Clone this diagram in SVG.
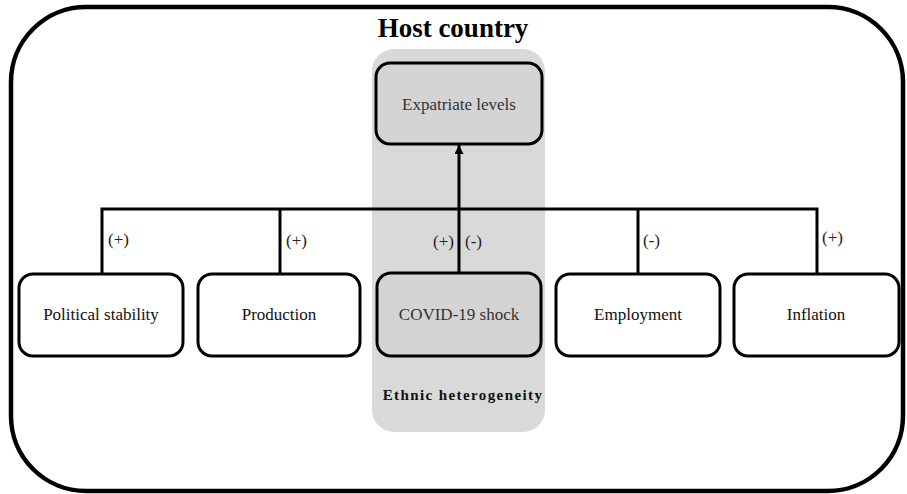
<svg xmlns="http://www.w3.org/2000/svg" width="907" height="494" viewBox="0 0 907 494">
  <defs>
    <style>
      .box { fill: #ffffff; stroke: #000; stroke-width: 3; }
      .gbox { fill: #d4d4d4; stroke: #000; stroke-width: 3; }
      text { font-family: 'Liberation Serif', 'Times New Roman', serif; }
      .lbl { font-size: 17px; fill: #111; text-anchor: middle; }
      .sign { font-size: 17px; fill: #222; }
      .line { stroke: #000; stroke-width: 3; fill: none; }
    </style>
    <marker id="arrow" viewBox="0 0 10 10" refX="10" refY="5" markerWidth="3" markerHeight="3" orient="auto" markerUnits="strokeWidth">
      <path d="M0,0 L10,5 L0,10 z" fill="#000"/>
    </marker>
  </defs>
  <rect width="907" height="494" fill="#ffffff"/>
  <rect id="host" x="11" y="7" width="892" height="484" rx="75" ry="75" fill="#ffffff" stroke="#000" stroke-width="4.5"/>
  <text x="453" y="37" font-size="27" font-weight="bold" text-anchor="middle" fill="#000">Host country</text>
  <g id="ethnic">
    <rect x="372" y="49" width="173" height="383" rx="22" ry="22" fill="#d9d9d9"/>
    <text x="463" y="400" font-size="15" font-weight="bold" letter-spacing="1.4" text-anchor="middle" fill="#111">Ethnic heterogeneity</text>
  </g>
  <g id="connectors">
    <path class="line" d="M102,274 V209 H817 V274"/>
    <path class="line" d="M280,209 V274"/>
    <path class="line" d="M638,209 V274"/>
    <line class="line" x1="459" y1="273" x2="459" y2="145" marker-end="url(#arrow)"/>
    <text class="sign" x="108" y="245">(+)</text>
    <text class="sign" x="286" y="246">(+)</text>
    <text class="sign" x="433" y="247">(+)</text>
    <text class="sign" x="465" y="247">(-)</text>
    <text class="sign" x="643" y="246">(-)</text>
    <text class="sign" x="822" y="243">(+)</text>
  </g>
  <g id="expatriate">
    <rect class="gbox" x="376" y="63" width="166" height="81" rx="14" ry="14"/>
    <text class="lbl" x="459" y="110" style="fill:#333">Expatriate levels</text>
  </g>
  <g id="political">
    <rect class="box" x="19" y="274" width="164" height="82" rx="14" ry="14"/>
    <text class="lbl" x="101" y="320">Political stability</text>
  </g>
  <g id="production">
    <rect class="box" x="198" y="274" width="162" height="82" rx="14" ry="14"/>
    <text class="lbl" x="279" y="320">Production</text>
  </g>
  <g id="covid">
    <rect class="gbox" x="377" y="273" width="164" height="83" rx="14" ry="14"/>
    <text class="lbl" x="459" y="320" style="fill:#333">COVID-19 shock</text>
  </g>
  <g id="employment">
    <rect class="box" x="556" y="274" width="164" height="82" rx="14" ry="14"/>
    <text class="lbl" x="638" y="320">Employment</text>
  </g>
  <g id="inflation">
    <rect class="box" x="734" y="274" width="165" height="82" rx="14" ry="14"/>
    <text class="lbl" x="816" y="320">Inflation</text>
  </g>
</svg>
